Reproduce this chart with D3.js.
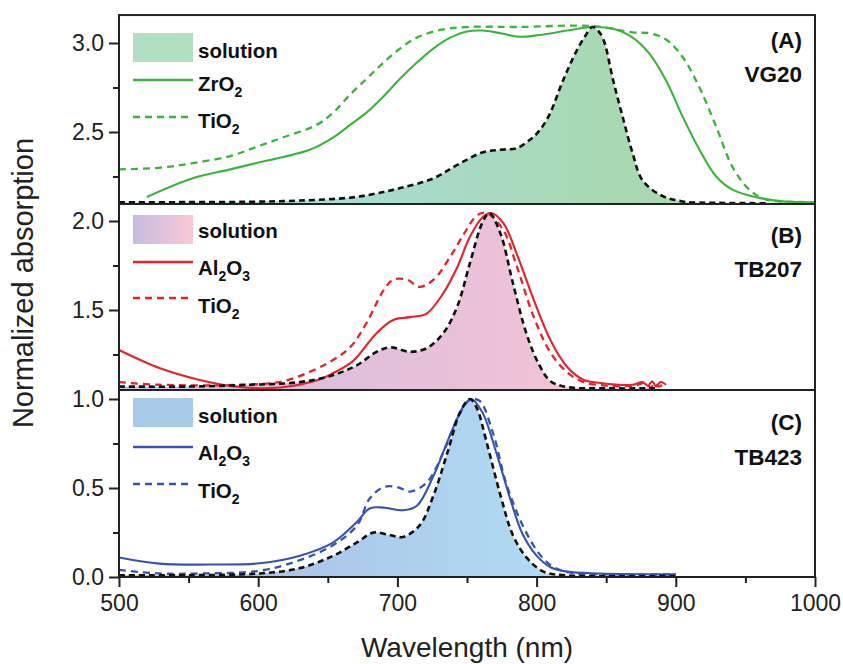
<!DOCTYPE html>
<html><head><meta charset="utf-8">
<script src="https://cdn.jsdelivr.net/npm/d3@7"></script>
<style>body{margin:0;background:#fff;} svg{display:block;font-family:"Liberation Sans",Arial,Helvetica,sans-serif;}</style>
</head><body><svg id="c" width="843" height="664"></svg>
<script>
// ---------------- DATA ----------------
const xTicks = [500, 600, 700, 800, 900, 1000];
const xMinorTicks = [550, 650, 750, 850, 950];
const yTicks = [0, 0.5, 1.0, 1.5, 2.0, 2.5, 3.0];
const yMinorTicks = [0.25, 0.75, 1.25, 1.75, 2.25, 2.75];
const panelLetters = ["(A)", "(B)", "(C)"];
const dyeNames = ["VG20", "TB207", "TB423"];
const solutionLabel = "solution";
const filmLabels = [[["ZrO", 0], ["2", 1]], [["Al", 0], ["2", 1], ["O", 0], ["3", 1]], [["Al", 0], ["2", 1], ["O", 0], ["3", 1]]];
const tioLabel = [["TiO", 0], ["2", 1]];
// value ranges of the stacked panels on the shared y axis
const panelRanges = [[2.096, 3.157], [1.051, 2.096], [0, 1.051]];

// (A) VG20
const vg20SolWl = [500, 550, 594, 630, 666, 685, 702, 726, 743, 761, 774, 786, 795, 800, 805, 810, 819, 829, 835, 840, 844, 848, 855, 862, 869, 876, 889, 905, 930, 965];
const vg20Sol   = [2.105, 2.106, 2.108, 2.115, 2.131, 2.155, 2.185, 2.24, 2.315, 2.385, 2.40, 2.41, 2.455, 2.49, 2.54, 2.61, 2.79, 2.96, 3.04, 3.09, 3.07, 3.02, 2.79, 2.58, 2.38, 2.23, 2.146, 2.11, 2.102, 2.10];
const vg20ZrWl = [520, 553, 580, 601, 618, 637, 654, 666, 678, 690, 702, 714, 726, 738, 750, 761, 774, 788, 802, 822, 840, 855, 869, 881, 893, 905, 917, 929, 941, 960, 977, 1000];
const vg20Zr   = [2.135, 2.24, 2.29, 2.33, 2.36, 2.40, 2.47, 2.54, 2.61, 2.70, 2.80, 2.89, 2.97, 3.03, 3.065, 3.07, 3.055, 3.035, 3.045, 3.07, 3.09, 3.08, 3.03, 2.94, 2.79, 2.585, 2.40, 2.25, 2.175, 2.13, 2.11, 2.105];
const vg20TiWl = [500, 530, 553, 580, 600, 618, 642, 654, 666, 678, 690, 702, 714, 729, 750, 786, 840, 869, 881, 893, 905, 917, 929, 941, 953, 965, 989, 1000];
const vg20Ti   = [2.29, 2.30, 2.325, 2.365, 2.42, 2.47, 2.54, 2.61, 2.71, 2.80, 2.89, 2.97, 3.03, 3.07, 3.09, 3.09, 3.095, 3.06, 3.055, 3.02, 2.92, 2.75, 2.53, 2.30, 2.175, 2.12, 2.107, 2.105];

// (B) TB207
const tb207SolWl = [500, 550, 594, 630, 654, 671, 685, 695, 709, 721, 733, 743, 752, 761, 766, 774, 783, 793, 802, 810, 822, 850, 885];
const tb207Sol   = [1.07, 1.07, 1.08, 1.095, 1.135, 1.19, 1.265, 1.29, 1.265, 1.285, 1.37, 1.52, 1.76, 1.99, 2.045, 1.93, 1.65, 1.36, 1.19, 1.10, 1.067, 1.06, 1.06];
const tb207AlWl = [500, 529, 558, 587, 616, 644, 654, 666, 671, 685, 697, 709, 721, 733, 743, 752, 761, 767, 776, 786, 798, 810, 822, 834, 846, 869, 876, 880, 883, 886, 889, 893];
const tb207Al   = [1.275, 1.174, 1.107, 1.067, 1.065, 1.11, 1.146, 1.20, 1.236, 1.37, 1.444, 1.46, 1.48, 1.595, 1.74, 1.91, 2.02, 2.045, 1.99, 1.81, 1.556, 1.33, 1.18, 1.107, 1.09, 1.08, 1.095, 1.075, 1.10, 1.07, 1.095, 1.08];
const tb207TiWl = [500, 529, 587, 618, 642, 654, 666, 678, 690, 697, 707, 716, 726, 738, 748, 757, 764, 776, 786, 798, 810, 822, 834, 850, 870, 878, 882, 885, 888, 891];
const tb207Ti   = [1.095, 1.08, 1.08, 1.10, 1.17, 1.22, 1.29, 1.43, 1.61, 1.67, 1.67, 1.63, 1.67, 1.80, 1.93, 2.03, 2.045, 1.95, 1.74, 1.46, 1.26, 1.15, 1.095, 1.075, 1.075, 1.09, 1.065, 1.09, 1.07, 1.085];

// (C) TB423
const tb423SolWl = [500, 550, 601, 630, 654, 671, 683, 695, 704, 716, 726, 736, 745, 752, 757, 764, 774, 783, 793, 805, 820, 850, 900];
const tb423Sol   = [0.01, 0.01, 0.02, 0.05, 0.12, 0.195, 0.25, 0.235, 0.225, 0.29, 0.46, 0.70, 0.925, 1.0, 0.95, 0.76, 0.46, 0.235, 0.107, 0.03, 0.01, 0.005, 0.005];
const tb423AlWl = [500, 529, 565, 601, 630, 654, 671, 680, 690, 704, 714, 726, 738, 748, 753, 761, 771, 781, 790, 800, 810, 822, 846, 900];
const tb423Al   = [0.11, 0.075, 0.07, 0.077, 0.12, 0.195, 0.31, 0.385, 0.39, 0.375, 0.40, 0.57, 0.80, 0.965, 1.0, 0.925, 0.70, 0.44, 0.24, 0.12, 0.055, 0.03, 0.02, 0.015];
const tb423TiWl = [500, 529, 560, 601, 630, 654, 671, 680, 690, 700, 709, 721, 733, 743, 752, 759, 769, 778, 790, 802, 812, 826, 850, 900];
const tb423Ti   = [0.04, 0.02, 0.02, 0.035, 0.095, 0.18, 0.29, 0.44, 0.505, 0.505, 0.48, 0.53, 0.70, 0.89, 0.995, 0.99, 0.80, 0.53, 0.29, 0.13, 0.056, 0.022, 0.015, 0.015];

// ---------------- CHART ----------------
const svg = d3.select("#c");
const x = d3.scaleLinear().domain([500, 1000]).range([119, 815]);
const y = d3.scaleLinear().domain([0, 3]).range([577, 43]);
const zip = (a, b) => a.map((v, i) => [v, b[i]]);

const panels = [
  {sol: zip(vg20SolWl, vg20Sol), film: zip(vg20ZrWl, vg20Zr), ti: zip(vg20TiWl, vg20Ti),
   color: "#3cb43c", grad: ["#a6dcea", "#a9d9b2"], sw: ["#b2dfc4", "#b2dfc4"]},
  {sol: zip(tb207SolWl, tb207Sol), film: zip(tb207AlWl, tb207Al), ti: zip(tb207TiWl, tb207Ti),
   color: "#e8222a", grad: ["#cbbde0", "#f7c3d5"], sw: ["#c7bde1", "#f9c8d5"]},
  {sol: zip(tb423SolWl, tb423Sol), film: zip(tb423AlWl, tb423Al), ti: zip(tb423TiWl, tb423Ti),
   color: "#3853b3", grad: ["#a6b6e1", "#b2e2f5"], sw: ["#a9c9e9", "#a9cbe9"]}
];

const defs = svg.append("defs");
const legendLayout = [
  {sw: 33, solT: 58, fl: 80, flT: 91, tl: 117, tlT: 128, lab: 48, dye: 82},
  {sw: 215, solT: 238, fl: 262, flT: 275, tl: 298, tlT: 313, lab: 243, dye: 277},
  {sw: 398, solT: 423, fl: 447, flT: 460, tl: 484, tlT: 498, lab: 430, dye: 465}
];
const curve = d3.curveCatmullRom.alpha(0.5);

panels.forEach((p, i) => {
  const [lo, hi] = panelRanges[i];
  const top = y(hi), bot = y(lo);
  defs.append("clipPath").attr("id", "clip" + i)
    .append("rect").attr("x", x(500)).attr("y", top).attr("width", x(1000) - x(500)).attr("height", bot - top);
  const g = defs.append("linearGradient").attr("id", "grad" + i)
    .attr("gradientUnits", "userSpaceOnUse").attr("x1", x(500)).attr("x2", x(860)).attr("y1", 0).attr("y2", 0);
  g.append("stop").attr("offset", 0).attr("stop-color", p.grad[0]);
  g.append("stop").attr("offset", 1).attr("stop-color", p.grad[1]);
  const sg = defs.append("linearGradient").attr("id", "sw" + i);
  sg.append("stop").attr("offset", 0).attr("stop-color", p.sw[0]);
  sg.append("stop").attr("offset", 1).attr("stop-color", p.sw[1]);

  const pg = svg.append("g").attr("clip-path", `url(#clip${i})`);
  const area = d3.area().x(d => x(d[0])).y0(bot).y1(d => y(d[1])).curve(curve);
  const line = d3.line().x(d => x(d[0])).y(d => y(d[1])).curve(curve);
  pg.append("path").datum(p.sol).attr("d", area).attr("fill", `url(#grad${i})`);
  pg.append("path").datum(p.ti).attr("d", line).attr("fill", "none").attr("stroke", p.color)
    .attr("stroke-width", 2.3).attr("stroke-dasharray", "7,5");
  pg.append("path").datum(p.film).attr("d", line).attr("fill", "none").attr("stroke", p.color).attr("stroke-width", 2.1);
  pg.append("path").datum(p.sol).attr("d", line).attr("fill", "none").attr("stroke", "#111")
    .attr("stroke-width", 2.6).attr("stroke-dasharray", "6,4");

  // legend
  const L = legendLayout[i];
  svg.append("rect").attr("x", 133).attr("y", L.sw).attr("width", 60).attr("height", 29).attr("fill", `url(#sw${i})`);
  svg.append("text").attr("x", 198).attr("y", L.solT).attr("font-size", 20.5).attr("font-weight", "bold").attr("fill", "#111").text(solutionLabel);
  svg.append("line").attr("x1", 133).attr("x2", 193).attr("y1", L.fl).attr("y2", L.fl).attr("stroke", p.color).attr("stroke-width", 2.3);
  svg.append("line").attr("x1", 133).attr("x2", 193).attr("y1", L.tl).attr("y2", L.tl).attr("stroke", p.color).attr("stroke-width", 2.3).attr("stroke-dasharray", "7,5");
  const addLabel = (parts, yy) => {
    const t = svg.append("text").attr("x", 198).attr("y", yy).attr("font-size", 20.5).attr("font-weight", "bold").attr("fill", "#111");
    let prev = 0;
    parts.forEach(([s, sub]) => {
      const dy = (sub ? 6 : 0) - (prev ? 6 : 0);
      t.append("tspan").attr("dy", dy).attr("font-size", sub ? 14 : 20.5).text(s);
      prev = sub;
    });
  };
  addLabel(filmLabels[i], L.flT);
  addLabel(tioLabel, L.tlT);
  svg.append("text").attr("x", 802).attr("y", L.lab).attr("text-anchor", "end").attr("font-size", 22.5).attr("font-weight", "bold").attr("fill", "#111").text(panelLetters[i]);
  svg.append("text").attr("x", 802).attr("y", L.dye).attr("text-anchor", "end").attr("font-size", 22.5).attr("font-weight", "bold").attr("fill", "#111").text(dyeNames[i]);
});

// frame and separators
const frame = svg.append("g").attr("stroke", "#222").attr("stroke-width", 2).attr("fill", "none");
frame.append("rect").attr("x", x(500)).attr("y", y(panelRanges[0][1])).attr("width", x(1000) - x(500)).attr("height", y(0) - y(panelRanges[0][1]));
[panelRanges[0][0], panelRanges[1][0]].forEach(v => {
  frame.append("line").attr("x1", x(500)).attr("x2", x(1000)).attr("y1", y(v)).attr("y2", y(v));
});

// axes
const yAxis = svg.append("g").attr("transform", `translate(${x(500)},0)`)
  .call(d3.axisLeft(y).tickValues(yTicks).tickFormat(d3.format(".1f")).tickSize(10).tickPadding(5));
yAxis.select(".domain").remove();
svg.append("g").attr("transform", `translate(${x(500)},0)`)
  .call(d3.axisLeft(y).tickValues(yMinorTicks).tickFormat("").tickSize(6)).select(".domain").remove();
const xAxis = svg.append("g").attr("transform", `translate(0,${y(0)})`)
  .call(d3.axisBottom(x).tickValues(xTicks).tickFormat(d3.format("d")).tickSize(10).tickPadding(8));
xAxis.select(".domain").remove();
svg.append("g").attr("transform", `translate(0,${y(0)})`)
  .call(d3.axisBottom(x).tickValues(xMinorTicks).tickFormat("").tickSize(6)).select(".domain").remove();
svg.selectAll(".tick line").attr("stroke", "#222").attr("stroke-width", 2);
svg.selectAll(".tick text").attr("font-size", 23).attr("fill", "#222").attr("font-family", '"Liberation Sans",Arial,sans-serif');

svg.append("text").attr("x", 467).attr("y", 657).attr("text-anchor", "middle").attr("font-size", 28).attr("fill", "#222").text("Wavelength (nm)");
svg.append("text").attr("transform", "translate(33,283) rotate(-90)").attr("text-anchor", "middle").attr("font-size", 29).attr("fill", "#222").text("Normalized absorption");
</script></body></html>
